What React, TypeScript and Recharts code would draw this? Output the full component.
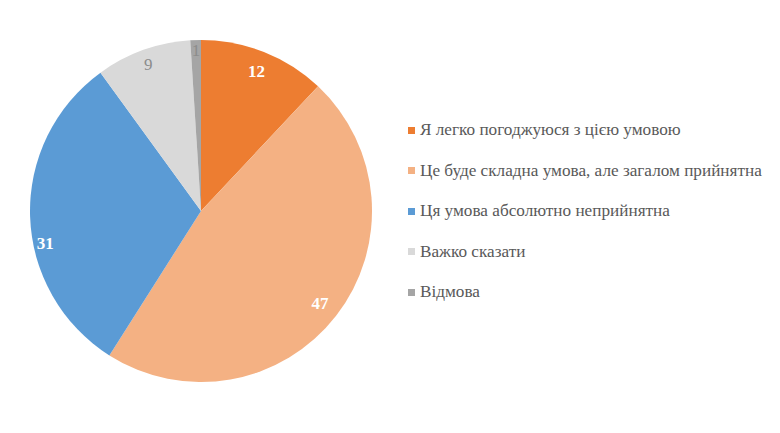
import { PieChart, Pie, Cell, Legend } from 'recharts'

const categories = [
  'Я легко погоджуюся з цією умовою',
  'Це буде складна умова, але загалом прийнятна',
  'Ця умова абсолютно неприйнятна',
  'Важко сказати',
  'Відмова',
]
const values = [12, 47, 31, 9, 1]
const COLORS = ['#ED7D31', '#F4B183', '#5B9BD5', '#D9D9D9', '#A5A5A5']
const LABEL_COLORS = ['#ffffff', '#ffffff', '#ffffff', '#8c8c8c', '#8c8c8c']
const LABEL_BOLD = [true, true, true, false, false]
// excel "best fit" nudges
const LABEL_ANGLE_SHIFT = [0, 0, 10, 0, 0]
const LABEL_RADIUS = [0.88, 0.88, 0.93, 0.91, 0.94]

const FONT = "'Times New Roman', 'Liberation Serif', Tinos, serif"

const data = categories.map((name, i) => ({ name, value: values[i] }))

const RAD = Math.PI / 180

function renderLabel(props: any) {
  const { cx, cy, midAngle, outerRadius, value, index } = props
  const r = outerRadius * LABEL_RADIUS[index]
  const a = midAngle + LABEL_ANGLE_SHIFT[index]
  const x = cx + r * Math.cos(-a * RAD)
  const y = cy + r * Math.sin(-a * RAD)
  return (
    <text
      x={x}
      y={y}
      fill={LABEL_COLORS[index]}
      textAnchor="middle"
      dominantBaseline="central"
      style={{ fontFamily: FONT, fontSize: 17, fontWeight: LABEL_BOLD[index] ? 700 : 400 }}
    >
      {value}
    </text>
  )
}

function renderLegend() {
  return (
    <div style={{ fontFamily: FONT, fontSize: 17.2, color: '#595959' }}>
      {categories.map((c, i) => (
        <div key={c} style={{ display: 'flex', alignItems: 'center', height: 40.5, whiteSpace: 'nowrap' }}>
          <span style={{ width: 7, height: 7, background: COLORS[i], marginRight: 5, display: 'inline-block' }} />
          <span>{c}</span>
        </div>
      ))}
    </div>
  )
}

export default function App() {
  return (
    <div style={{ position: 'absolute', left: 0, top: 0, background: '#fff', fontFamily: FONT }}>
      <PieChart width={780} height={433} margin={{ top: 0, right: 0, bottom: 0, left: 0 }}>
        <Pie
          data={data}
          dataKey="value"
          cx={201}
          cy={211}
          outerRadius={171}
          startAngle={90}
          endAngle={-270}
          stroke="none"
          labelLine={false}
          label={renderLabel}
          isAnimationActive={false}
        >
          {data.map((_, i) => (
            <Cell key={i} fill={COLORS[i]} />
          ))}
        </Pie>
        <Legend content={renderLegend} wrapperStyle={{ left: 408, top: 110, width: 372 }} />
      </PieChart>
    </div>
  )
}
